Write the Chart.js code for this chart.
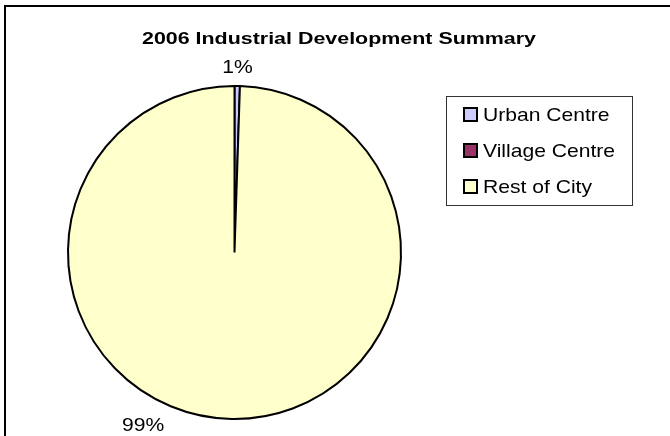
<!DOCTYPE html>
<html>
<head>
<meta charset="utf-8">
<script src="https://cdn.jsdelivr.net/npm/chart.js@4"></script>
<style>
  body { margin: 0; background: #fff; }
  #chartWrap { width: 670px; height: 436px; }
</style>
</head>
<body>
<div id="chartWrap"><canvas id="pieChart" width="670" height="436"></canvas></div>
<script>
// Chart data
const chartTitle = '2006 Industrial Development Summary';
const categories = ['Urban Centre', 'Village Centre', 'Rest of City'];
const shares = [0.52, 0, 99.48]; // percent of total
const sliceColors = ['#CCCCFF', '#993366', '#FFFFCC'];

const FONT = 'Arial, "Liberation Sans", sans-serif';

// text in the original is a bit wider than plain Arial, so stretch it
function wideText(ctx, text, x, y, sx) {
  ctx.save();
  ctx.translate(x, y);
  ctx.scale(sx, 1);
  ctx.fillText(text, 0, 0);
  ctx.restore();
}

// draws the frame, title, legend box and percent labels (Excel style)
const excelDecor = {
  id: 'excelDecor',
  afterDraw(chart) {
    const ctx = chart.ctx;
    ctx.save();

    // outer frame
    ctx.strokeStyle = '#000';
    ctx.lineWidth = 2;
    ctx.beginPath();
    ctx.moveTo(5, 440);
    ctx.lineTo(5, 6);
    ctx.lineTo(680, 6);
    ctx.stroke();

    // title
    ctx.fillStyle = '#000';
    ctx.font = 'bold 17px ' + FONT;
    ctx.textAlign = 'center';
    ctx.textBaseline = 'alphabetic';
    wideText(ctx, chartTitle, 339, 44, 1.26);

    // legend box
    ctx.lineWidth = 1;
    ctx.strokeStyle = '#333';
    ctx.strokeRect(446.5, 96.5, 186, 109);
    ctx.font = '19px ' + FONT;
    ctx.textAlign = 'left';
    ctx.textBaseline = 'middle';
    categories.forEach((name, i) => {
      const y = 115 + i * 36;
      ctx.fillStyle = sliceColors[i];
      ctx.fillRect(464, y - 7, 13, 13);
      ctx.lineWidth = 2;
      ctx.strokeStyle = '#000';
      ctx.strokeRect(464, y - 7, 13, 13);
      ctx.fillStyle = '#000';
      wideText(ctx, name, 483, y + 1, 1.11);
    });

    // percent labels outside the slices
    const meta = chart.getDatasetMeta(0);
    const total = shares.reduce((a, b) => a + b, 0);
    ctx.font = '19px ' + FONT;
    ctx.textAlign = 'center';
    ctx.textBaseline = 'middle';
    meta.data.forEach((arc, i) => {
      if (!shares[i]) return;
      const pct = Math.round(shares[i] / total * 100) + '%';
      // Excel pushed the big label round to the lower left
      const mid = (arc.startAngle + arc.endAngle) / 2 + (i === 2 ? 0.47 : 0);
      const dist = arc.outerRadius + (i === 2 ? 29 : 18);
      wideText(ctx, pct, arc.x + Math.cos(mid) * dist, arc.y + Math.sin(mid) * dist, 1.11);
    });

    ctx.restore();
  }
};

new Chart(document.getElementById('pieChart'), {
  type: 'pie',
  data: {
    labels: categories,
    datasets: [{
      data: shares,
      backgroundColor: sliceColors,
      borderColor: '#000',
      borderWidth: 2,
      hoverOffset: 0
    }]
  },
  options: {
    responsive: false,
    animation: false,
    layout: { padding: { left: 67, right: 268, top: 85, bottom: 16 } },
    plugins: {
      title: { display: false },
      legend: { display: false },
      tooltip: { enabled: false }
    }
  },
  plugins: [excelDecor]
});
</script>
</body>
</html>
